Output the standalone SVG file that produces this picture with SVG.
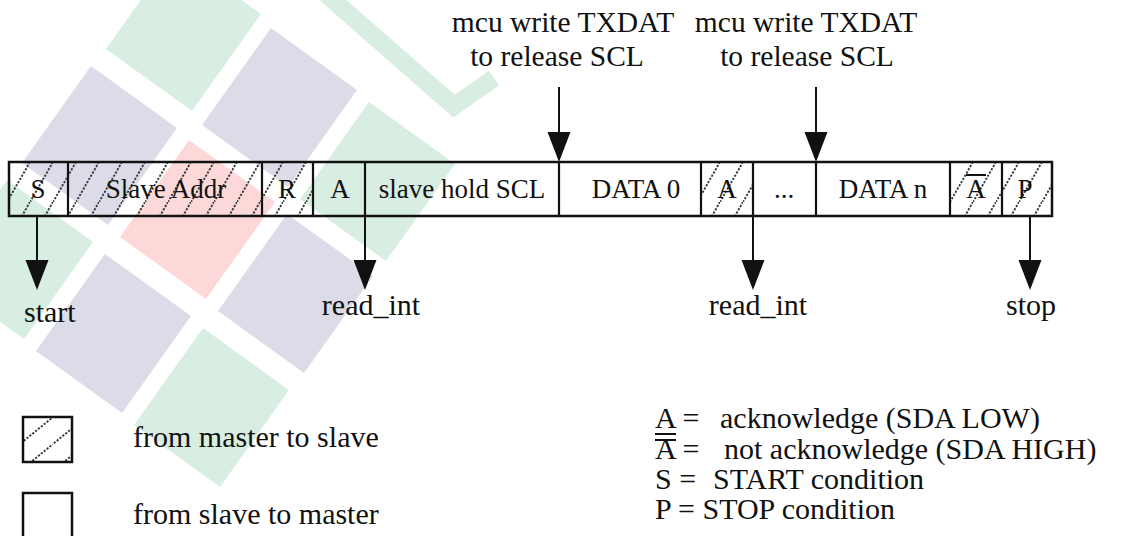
<svg xmlns="http://www.w3.org/2000/svg" width="1121" height="536" viewBox="0 0 1121 536">
<style>
text{font-family:"Liberation Serif","Times New Roman",serif;fill:#111}
.cell{font-size:27px;text-anchor:middle}
.lbl{font-size:30px}
.top{font-size:29.5px;text-anchor:middle}
.mid{text-anchor:middle}
.box{fill:none;stroke:#111;stroke-width:2.5}
.hbox{fill:url(#hatch2);stroke:#111;stroke-width:2.5}
.div{stroke:#111;stroke-width:2.2}
.ln{stroke:#111;stroke-width:2}
.hd{fill:#111}
.wm-l{fill:#dcdce9}
.wm-m{fill:#d8eee2}
.wm-p{fill:#fdd8d9}
</style>
<defs>
<pattern id="hatch" patternUnits="userSpaceOnUse" x="7" y="162" width="23" height="40">
<path d="M-2,43.5 L25,-3.5" stroke="#3a3a3a" stroke-width="1.9" stroke-dasharray="2.2 1.5"/>
</pattern>
<pattern id="hatch2" patternUnits="userSpaceOnUse" x="20" y="417" width="33" height="27">
<path d="M-2,28.6 L35,-1.6" stroke="#3a3a3a" stroke-width="1.9" stroke-dasharray="2.2 1.5"/>
</pattern>
</defs>
<rect width="1121" height="536" fill="#fff"/>
<g id="watermark">
<polygon class="wm-m" points="175,-48 261,14 192,111 106,49"/>
<polygon class="wm-l" points="271,28 357,90 288,187 202,125"/>
<polygon class="wm-m" points="369,102 455,164 386,261 300,199"/>
<polygon class="wm-l" points="91,66 177,128 108,225 22,163"/>
<polygon class="wm-p" points="189,140 275,202 206,299 120,237"/>
<polygon class="wm-l" points="287,214 373,276 304,373 218,311"/>
<polygon class="wm-m" points="7,180 93,242 24,339 -62,277"/>
<polygon class="wm-l" points="105,254 191,316 122,413 36,351"/>
<polygon class="wm-m" points="203,328 289,390 220,487 134,425"/>
<polyline points="326,-6 454,106 494,78" fill="none" stroke="#d8eee2" stroke-width="18"/>
</g>
<g id="frame">
<g id="cell-s"><rect x="9" y="162" width="59" height="54" fill="url(#hatch)"/><text class="cell" x="38" y="198">S</text></g>
<g id="cell-addr"><rect x="68" y="162" width="194" height="54" fill="url(#hatch)"/><text class="cell" x="166" y="198">Slave Addr</text></g>
<g id="cell-r"><rect x="262" y="162" width="51" height="54" fill="url(#hatch)"/><text class="cell" x="287" y="198">R</text></g>
<g id="cell-a1"><text class="cell" x="340" y="198">A</text></g>
<g id="cell-hold"><text class="cell" x="462" y="198">slave hold SCL</text></g>
<g id="cell-d0"><text class="cell" x="636" y="198">DATA 0</text></g>
<g id="cell-a2"><rect x="701" y="162" width="52" height="54" fill="url(#hatch)"/><text class="cell" x="727" y="198">A</text></g>
<g id="cell-dots"><text class="cell" x="784" y="198">...</text></g>
<g id="cell-dn"><text class="cell" x="883" y="198">DATA n</text></g>
<g id="cell-na"><rect x="950" y="162" width="52" height="54" fill="url(#hatch)"/><text class="cell" x="976" y="198">A</text><line x1="966" y1="175" x2="986" y2="175" class="ln"/></g>
<g id="cell-p"><rect x="1002" y="162" width="50" height="54" fill="url(#hatch)"/><text class="cell" x="1025" y="198">P</text></g>
<rect class="box" x="9" y="162" width="1043" height="54"/>
<path class="div" d="M68,162V216M262,162V216M313,162V216M365,162V216M559,162V216M701,162V216M753,162V216M816,162V216M950,162V216M1002,162V216"/>
</g>
<g id="connectors">
<line class="ln" x1="559" y1="87" x2="559" y2="134"/><polygon class="hd" points="547.5,132 570.5,132 559,162"/>
<line class="ln" x1="816" y1="87" x2="816" y2="134"/><polygon class="hd" points="804.5,132 827.5,132 816,162"/>
<line class="ln" x1="37" y1="216" x2="37" y2="262"/><polygon class="hd" points="25.5,260 48.5,260 37,290"/>
<line class="ln" x1="365" y1="216" x2="365" y2="262"/><polygon class="hd" points="353.5,260 376.5,260 365,290"/>
<line class="ln" x1="753" y1="216" x2="753" y2="262"/><polygon class="hd" points="741.5,260 764.5,260 753,290"/>
<line class="ln" x1="1030" y1="216" x2="1030" y2="262"/><polygon class="hd" points="1018.5,260 1041.5,260 1030,290"/>
</g>
<g id="top-labels">
<text class="top" x="563" y="32">mcu write TXDAT</text>
<text class="top" x="557" y="66">to release SCL</text>
<text class="top" x="806" y="32">mcu write TXDAT</text>
<text class="top" x="807" y="66">to release SCL</text>
</g>
<g id="bottom-labels">
<text class="lbl" x="24" y="322">start</text>
<text class="lbl mid" x="371" y="315">read_int</text>
<text class="lbl mid" x="758" y="315">read_int</text>
<text class="lbl mid" x="1031" y="315">stop</text>
</g>
<g id="legend-master"><rect class="hbox" x="23" y="417" width="49" height="45"/><text class="lbl" x="133" y="447">from master to slave</text></g>
<g id="legend-slave"><rect class="box" x="23" y="493" width="49" height="50"/><text class="lbl" x="133" y="524">from slave to master</text></g>
<g id="legend-right">
<text class="lbl" x="655" y="428">A =</text><line class="ln" x1="655" y1="434" x2="676" y2="434"/><text class="lbl" x="720" y="428">acknowledge (SDA LOW)</text>
<text class="lbl" x="655" y="459">A =</text><line class="ln" x1="655" y1="440" x2="676" y2="440"/><text class="lbl" x="724" y="459">not acknowledge (SDA HIGH)</text>
<text class="lbl" x="655" y="489">S =</text><text class="lbl" x="713" y="489">START condition</text>
<text class="lbl" x="655" y="519">P = STOP condition</text>
</g>
</svg>
